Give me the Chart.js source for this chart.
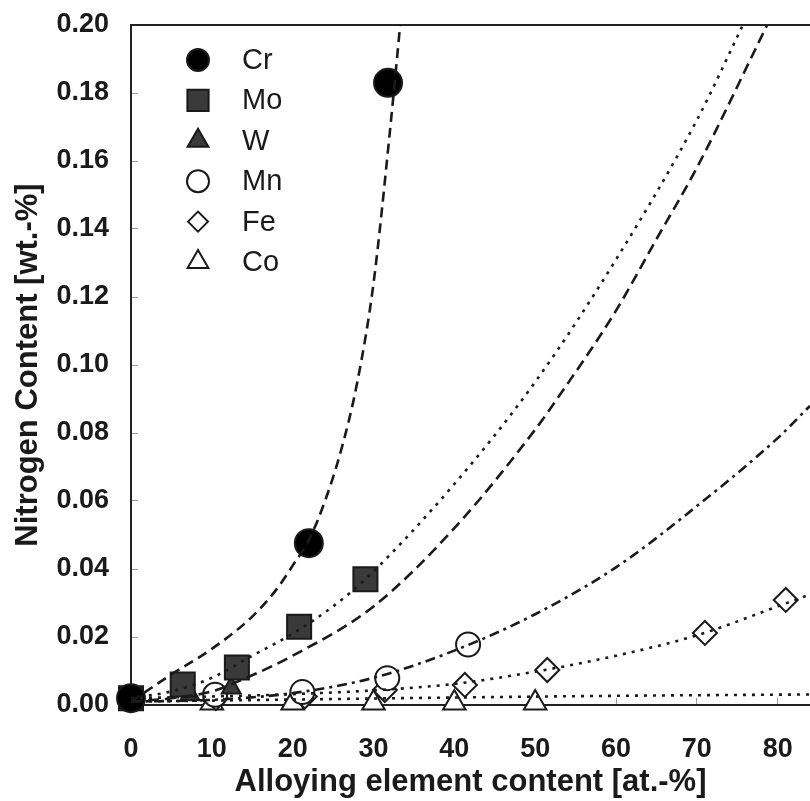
<!DOCTYPE html>
<html>
<head>
<meta charset="utf-8">
<script src="https://cdn.jsdelivr.net/npm/chart.js@4/dist/chart.umd.min.js"></script>
<style>
  body { margin: 0; background: #fff; }
  #wrap { width: 810px; height: 801px; }
</style>
</head>
<body>
<div id="wrap"><canvas id="nChart" width="810" height="801"></canvas></div>
<script>
// measured points
var crX = [0, 22.0, 31.8];
var crY = [0.002, 0.0476, 0.183];
var moX = [0, 6.4, 13.1, 20.8, 29.0];
var moY = [0.002, 0.006, 0.011, 0.023, 0.037];
var wX = [0, 7.3, 12.4];
var wY = [0.002, 0.003, 0.005];
var mnX = [0, 10.4, 21.2, 31.7, 41.7];
var mnY = [0.002, 0.003, 0.0038, 0.0079, 0.0178];
var feX = [0, 10.5, 21.5, 31.4, 41.3, 51.5, 71.0, 81.0];
var feY = [0.002, 0.002, 0.0025, 0.0044, 0.0059, 0.0103, 0.0212, 0.0309];
var coX = [0, 10, 20, 30, 40, 50];
var coY = [0.0006, 0.0006, 0.0006, 0.0006, 0.0006, 0.0006];

// fitted curves
var crLineX = [0, 2.5, 5, 10, 15, 18, 20, 22, 24, 26, 28, 30, 32, 33.3];
var crLineY = [0.001, 0.005, 0.009, 0.0165, 0.026, 0.034, 0.041, 0.0485, 0.060, 0.075, 0.095, 0.124, 0.168, 0.200];
var moLineX = [0, 5, 10, 15, 20, 25, 29, 40, 50, 60, 70, 75.7];
var moLineY = [0.002, 0.004, 0.008, 0.0145, 0.021, 0.029, 0.037, 0.065, 0.095, 0.131, 0.172, 0.200];
var wLineX = [0, 5, 10, 13.5, 20, 30, 40, 50, 53, 60, 65, 70, 78.7];
var wLineY = [0.001, 0.002, 0.004, 0.0072, 0.0145, 0.029, 0.052, 0.081, 0.091, 0.116, 0.137, 0.158, 0.200];
var mnLineX = [0, 10, 20, 30, 40, 50, 60, 70, 80, 84];
var mnLineY = [0.001, 0.0015, 0.0035, 0.0080, 0.0160, 0.0267, 0.0405, 0.0585, 0.0785, 0.088];
var feLineX = [0, 10, 20, 30, 40, 50, 60, 70, 80, 84];
var feLineY = [0.002, 0.0025, 0.0032, 0.0043, 0.0062, 0.0098, 0.0145, 0.0205, 0.0290, 0.0325];
var coLineX = [0, 20, 40, 60, 84];
var coLineY = [0.001, 0.0016, 0.0022, 0.0027, 0.0031];

var xTicks = [0, 10, 20, 30, 40, 50, 60, 70, 80];
var yTicks = [0, 0.02, 0.04, 0.06, 0.08, 0.10, 0.12, 0.14, 0.16, 0.18, 0.20];

function pts(xs, ys) {
    var out = [];
    for (var i = 0; i < xs.length; i++) out.push({ x: xs[i], y: ys[i] });
    return out;
}

var ink = '#1a1a1a';

function curve(xs, ys, dash) {
    return {
        type: 'line', data: pts(xs, ys), borderColor: ink, borderWidth: 2.6,
        borderDash: dash, pointRadius: 0, fill: false, tension: 0.4,
        cubicInterpolationMode: 'monotone', isCurve: true
    };
}

function marks(label, xs, ys, style, r, fillCol, legendR) {
    return {
        type: 'scatter', label: label, data: pts(xs, ys), pointStyle: style,
        pointRadius: r, pointHoverRadius: r, backgroundColor: fillCol, borderColor: ink,
        borderWidth: 2, showLine: false, clip: false, legendRadius: legendR
    };
}

function noPad(s) {
    s.paddingTop = 0;
    s.paddingBottom = 0;
    s.paddingLeft = 0;
    s.paddingRight = 0;
}

var legendPlugin = {
    id: 'insideLegend',
    afterDatasetsDraw: function (chart) {
        var ctx = chart.ctx;
        var area = chart.chartArea;
        var row = 0;
        chart.data.datasets.forEach(function (ds) {
            if (ds.isCurve) return;
            var cx = area.left + 67;
            var cy = area.top + 35 + row * 40.4;
            ctx.save();
            ctx.fillStyle = ds.backgroundColor;
            ctx.strokeStyle = ds.borderColor;
            ctx.lineWidth = 2;
            Chart.helpers.drawPoint(ctx, { pointStyle: ds.pointStyle, radius: ds.legendRadius, rotation: 0, borderWidth: 2 }, cx, cy);
            ctx.fillStyle = ink;
            ctx.font = '29px "Liberation Sans", Arial, sans-serif';
            ctx.textAlign = 'left';
            ctx.textBaseline = 'middle';
            ctx.fillText(ds.label, area.left + 111, cy + 1);
            ctx.restore();
            row++;
        });
    }
};

var tickFont = { family: '"Liberation Sans", Arial, sans-serif', size: 27, weight: 'bold' };
var titleFont = { family: '"Liberation Sans", Arial, sans-serif', size: 31, weight: 'bold' };

new Chart(document.getElementById('nChart').getContext('2d'), {
    data: {
        datasets: [
            curve(crLineX, crLineY, [10, 6]),
            curve(moLineX, moLineY, [3, 6]),
            curve(wLineX, wLineY, [11, 6]),
            curve(mnLineX, mnLineY, [10, 5, 3, 5]),
            curve(feLineX, feLineY, [3, 6]),
            curve(coLineX, coLineY, [3, 6]),
            marks('Cr', crX, crY, 'circle', 14, '#000000', 11),
            marks('Mo', moX, moY, 'rect', 17, '#3a3a3a', 15),
            marks('W', wX, wY, 'triangle', 11, '#3a3a3a', 12),
            marks('Mn', mnX, mnY, 'circle', 12, '#ffffff', 11),
            marks('Fe', feX, feY, 'rectRot', 12, '#ffffff', 10),
            marks('Co', coX, coY, 'triangle', 13, '#ffffff', 12)
        ]
    },
    options: {
        responsive: false,
        animation: false,
        layout: { autoPadding: false, padding: { top: 25, right: 0, left: 0, bottom: 0 } },
        plugins: { legend: { display: false }, tooltip: { enabled: false } },
        scales: {
            x: {
                type: 'linear', position: 'bottom', min: 0, max: 84,
                afterBuildTicks: function (s) { s.ticks = xTicks.map(function (v) { return { value: v }; }); },
                afterFit: function (s) { s.height = 96; noPad(s); },
                ticks: { font: tickFont, color: ink, padding: 35, maxRotation: 0 },
                grid: { drawOnChartArea: false, tickLength: -7, color: '#9a9a9a', lineWidth: 1 },
                border: { color: '#222', width: 2 },
                title: { display: true, text: 'Alloying element content [at.-%]', font: titleFont, color: ink, padding: { top: 0, bottom: 0 } }
            },
            xTop: {
                type: 'linear', position: 'top', min: 0, max: 84,
                afterFit: function (s) { s.height = 0; noPad(s); },
                ticks: { display: false },
                grid: { display: false },
                border: { color: '#222', width: 2 }
            },
            y: {
                type: 'linear', position: 'left', min: 0, max: 0.2,
                afterBuildTicks: function (s) { s.ticks = yTicks.map(function (v) { return { value: v }; }); },
                afterFit: function (s) { s.width = 131; noPad(s); },
                ticks: { font: tickFont, color: ink, padding: 29, callback: function (v) { return v.toFixed(2); } },
                grid: { drawOnChartArea: false, tickLength: -7, color: '#9a9a9a', lineWidth: 1 },
                border: { color: '#222', width: 2 },
                title: { display: true, text: 'Nitrogen Content [wt.-%]', font: titleFont, color: ink, padding: { top: 10, bottom: 0 } }
            }
        }
    },
    plugins: [legendPlugin]
});
</script>
</body>
</html>
